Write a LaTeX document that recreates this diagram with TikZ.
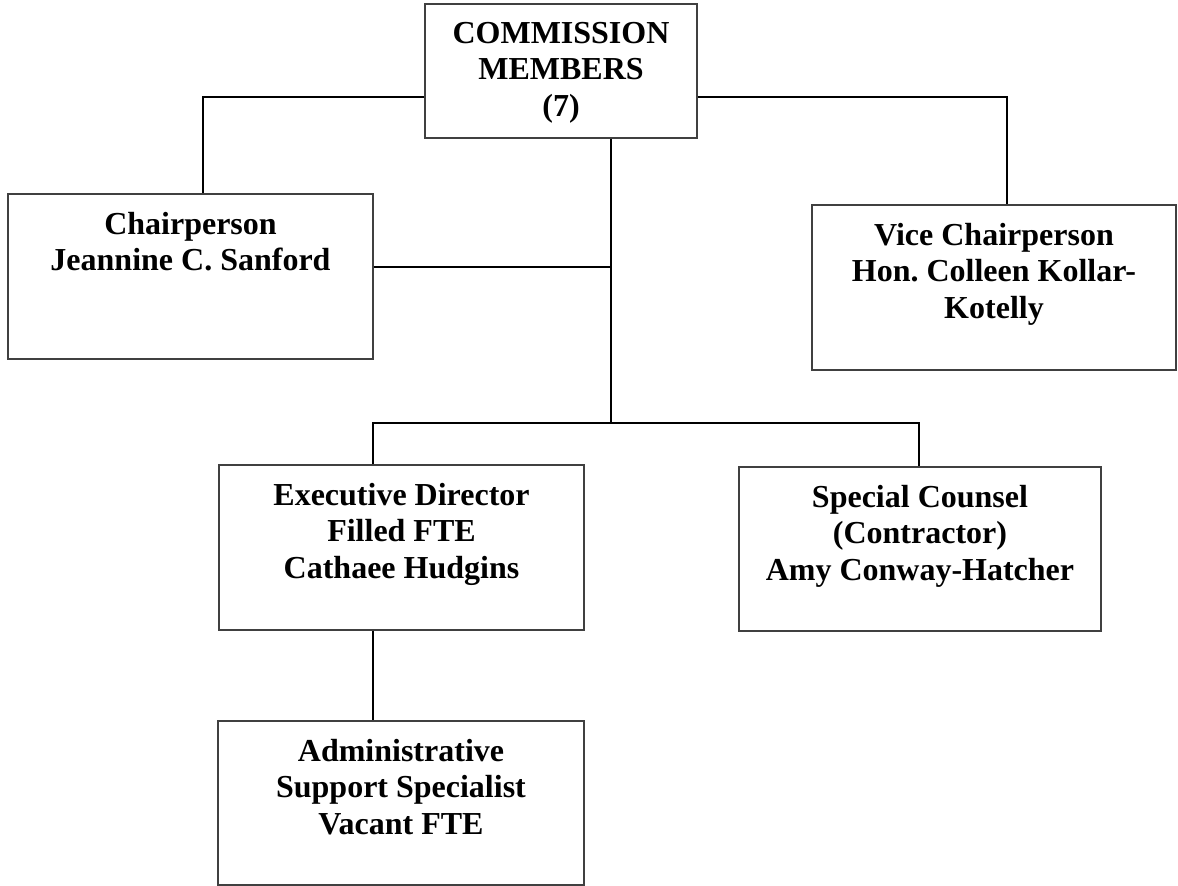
\documentclass[tikz,border=0pt]{standalone}
\usepackage{fontspec}
\setmainfont{Liberation Serif}
\usetikzlibrary{positioning}
\frenchspacing

\begin{document}
\begin{tikzpicture}[x=1pt, y=-1pt, box/.style={draw=black!75, line width=1.4pt, inner sep=0pt}, box text/.style={align=center, inner sep=0pt, anchor=north, font=\fontsize{32}{36.5}\selectfont\bfseries}, link/.style={draw=black, line width=1.8pt}]
	\useasboundingbox (0,0) rectangle (1178,886);
	\node[box, minimum width=272pt, minimum height=134pt] (comm) at (561,71) {};
	\node[box, minimum width=365pt, minimum height=165pt] (chair) at (190.5,276.5) {};
	\node[box, minimum width=364pt, minimum height=165pt] (vice) at (994,287.5) {};
	\node[box, minimum width=365pt, minimum height=165pt] (exec) at (401.5,547.5) {};
	\node[box, minimum width=362pt, minimum height=164pt] (counsel) at (920,549) {};
	\node[box, minimum width=366pt, minimum height=164pt] (admin) at (401,803) {};
	\node[box text] (comm text) [below=18.4pt of comm.north] {COMMISSION\\MEMBERS\\(7)};
	\node[box text] (chair text) [below=18.4pt of chair.north] {Chairperson\\Jeannine C. Sanford};
	\node[box text] (vice text) [below=18.4pt of vice.north] {Vice Chairperson\\Hon. Colleen Kollar-\\Kotelly};
	\node[box text] (exec text) [below=18.4pt of exec.north] {Executive Director\\Filled FTE\\Cathaee Hudgins};
	\node[box text] (counsel text) [below=18.4pt of counsel.north] {Special Counsel\\(Contractor)\\Amy Conway-Hatcher};
	\node[box text] (admin text) [below=18.4pt of admin.north] {Administrative\\Support Specialist\\Vacant FTE};
	\coordinate (left join) at (203,97);
	\coordinate (right join) at (1007,97);
	\coordinate (chair join) at (611,267);
	\coordinate (bus mid) at (611,423);
	\coordinate (bus left) at (373,423);
	\coordinate (bus right) at (919,423);
	\path[link]
		(comm.west |- left join) -- (left join) -- (left join |- chair.north)
		(comm.east |- right join) -- (right join) -- (right join |- vice.north)
		(bus mid |- comm.south) -- (bus mid)
		(chair.east |- chair join) -- (chair join)
		(bus left |- exec.north) -- (bus left) -- (bus right) -- (bus right |- counsel.north)
		(bus left |- exec.south) -- (bus left |- admin.north);
\end{tikzpicture}
\end{document}
